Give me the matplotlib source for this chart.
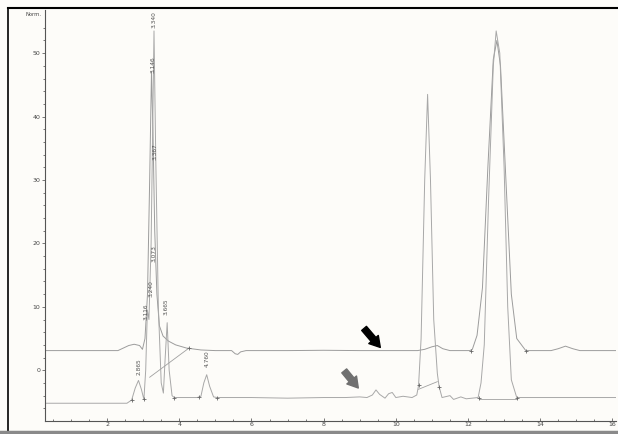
import matplotlib
matplotlib.use("Agg")
import matplotlib.pyplot as plt
from matplotlib.lines import Line2D

# upper trace (sample): (time min, signal)
upper_t = [0.28, 2.3, 2.45, 2.6, 2.75, 2.9, 2.98, 3.05, 3.12, 3.18, 3.23, 3.27, 3.32, 3.38,
           3.45, 3.55, 3.7, 3.9, 4.2, 4.6, 5.0, 5.45, 5.55, 5.62, 5.7, 5.85, 7.0, 8.0, 9.0,
           10.0, 10.6, 10.8, 11.0, 11.15, 11.3, 11.5, 12.05, 12.12, 12.25, 12.4, 12.55, 12.7,
           12.8, 12.9, 13.05, 13.2, 13.35, 13.6, 14.3, 14.5, 14.7, 14.9, 15.1, 16.1]
upper_y = [3.1, 3.1, 3.5, 3.9, 4.1, 3.9, 3.3, 5.0, 12.0, 30.0, 47.0, 38.0, 22.0, 12.0,
           7.0, 5.4, 4.6, 4.0, 3.5, 3.2, 3.1, 3.1, 2.6, 2.5, 2.9, 3.1, 3.1, 3.15, 3.1,
           3.1, 3.1, 3.3, 3.7, 3.9, 3.4, 3.1, 3.1, 3.3, 5.5, 13.0, 32.0, 49.0,
           52.0, 48.0, 30.0, 12.0, 5.0, 3.1, 3.1, 3.4, 3.8, 3.4, 3.1, 3.1]

# lower trace (standard)
lower_t = [0.28, 2.55, 2.68, 2.78, 2.87, 2.95, 3.02, 3.07, 3.116, 3.16, 3.22, 3.3, 3.35, 3.42,
           3.5, 3.56, 3.61, 3.665, 3.72, 3.8, 3.86, 4.5, 4.6, 4.68, 4.76, 4.84, 4.95, 5.05,
           6.0, 7.0, 8.0, 8.6, 9.0, 9.2, 9.35, 9.45, 9.55, 9.7, 9.8, 9.9, 10.0, 10.2, 10.45,
           10.58, 10.63, 10.7, 10.8, 10.88, 10.96, 11.05, 11.15, 11.2, 11.28, 11.5, 11.6,
           11.8, 11.95, 12.28, 12.36, 12.45, 12.57, 12.7, 12.78, 12.88, 13.0, 13.1, 13.2,
           13.35, 14.0, 15.0, 16.1]
lower_y = [-5.2, -5.2, -4.7, -2.8, -1.6, -3.0, -4.6, 0.0, 9.5, 8.0, 20.0, 53.5, 33.0, 10.0,
           -2.0, -3.6, 2.0, 7.5, 0.0, -4.0, -4.3, -4.3, -4.1, -2.0, -0.7, -2.5, -4.2, -4.3,
           -4.3, -4.4, -4.3, -4.3, -4.2, -4.3, -3.9, -3.1, -3.8, -4.4, -3.7, -3.5, -4.3, -4.1, -4.3,
           -3.9, -2.4, 5.0, 30.0, 43.5, 30.0, 8.0, -0.5, -2.6, -4.3, -4.0, -4.6,
           -4.2, -4.5, -4.3, -2.0, 4.0, 27.0, 48.0, 53.5, 50.0, 32.0, 10.0, -1.5,
           -4.3, -4.3, -4.3, -4.3]

# retention time labels (text, x, y of label foot)
rt_text = ["3.340", "3.146", "3.367", "3.073", "3.240", "3.116", "3.665", "2.865", "4.760"]
rt_x = [3.29, 3.26, 3.34, 3.29, 3.22, 3.08, 3.64, 2.9, 4.77]
rt_y = [53.9, 46.9, 33.1, 17.0, 11.5, 8.0, 8.7, -0.8, 0.5]

# integration markers
mark_t = [2.68, 3.02, 3.86, 4.55, 5.05, 10.63, 11.2, 12.3, 13.37, 4.27, 12.08, 13.6]
mark_y = [-4.7, -4.6, -4.3, -4.2, -4.3, -2.4, -2.6, -4.3, -4.3, 3.5, 3.1, 3.1]

# drawn baselines (x0, x1, y0, y1)
base_x0 = [12.3, 10.63, 3.18]
base_x1 = [13.37, 11.15, 4.27]
base_y0 = [-4.5, -3.0, -1.1]
base_y1 = [-4.5, -1.8, 3.5]

bg = "#fdfcf9"
fig = plt.figure(figsize=(6.18, 4.34), dpi=100, facecolor=bg)
ax = fig.add_axes([45 / 618, 13 / 434, 571 / 618, 411 / 434], facecolor=bg)

ax.plot(upper_t, upper_y, color="#9c9c9c", lw=0.7)
ax.plot(lower_t, lower_y, color="#a8a8a8", lw=0.7)
for a, b, c, d in zip(base_x0, base_x1, base_y0, base_y1):
    ax.plot([a, b], [c, d], color="#a0a0a0", lw=0.6)
ax.plot(mark_t, mark_y, linestyle="none", marker="+", ms=3, mew=0.6, color="#666666")

for s, x, y in zip(rt_text, rt_x, rt_y):
    ax.text(x, y, s, rotation=90, ha="center", va="bottom", fontsize=4.2, color="#555555")

# arrows pointing at the two baselines
ax.annotate("", xy=(9.57, 3.6), xytext=(9.12, 6.6),
            arrowprops=dict(arrowstyle="simple,head_width=0.9,head_length=0.75,tail_width=0.45",
                            color="black", mutation_scale=10, shrinkA=0, shrinkB=0))
ax.annotate("", xy=(8.96, -2.8), xytext=(8.57, -0.1),
            arrowprops=dict(arrowstyle="simple,head_width=0.9,head_length=0.75,tail_width=0.45",
                            color="#707070", mutation_scale=10, shrinkA=0, shrinkB=0))

ax.set_xlim(0.28, 16.1)
ax.set_ylim(-8.0, 56.8)
ax.set_xticks(range(2, 17, 2))
ax.set_xticks([v / 2 for v in range(1, 33)], minor=True)
ax.set_yticks(range(0, 51, 10))
ax.set_yticks(range(-6, 56, 2), minor=True)
ax.tick_params(axis="x", which="both", direction="in", labelsize=4.5, colors="#444444",
               pad=1, length=2.5, width=0.5)
ax.tick_params(axis="x", which="minor", length=1.5)
ax.tick_params(axis="y", which="both", direction="out", labelsize=4.5, colors="#444444",
               pad=1, length=2.5, width=0.5)
ax.tick_params(axis="y", which="minor", length=1.5)
for side in ["top", "right"]:
    ax.spines[side].set_visible(False)
for side in ["left", "bottom"]:
    ax.spines[side].set_color("#555555")
    ax.spines[side].set_linewidth(0.8)

fig.text(33 / 618, 1 - 14 / 434, "Norm.", fontsize=3.8, color="#444444", ha="center", va="center")

# outer frame of the screenshot
fig.add_artist(Line2D([8 / 618, 1], [1 - 8 / 434, 1 - 8 / 434], transform=fig.transFigure,
                      color="black", lw=1.5))
fig.add_artist(Line2D([8 / 618, 8 / 618], [0, 1 - 8 / 434], transform=fig.transFigure,
                      color="black", lw=1.2))
fig.add_artist(Line2D([0, 1], [2 / 434, 2 / 434], transform=fig.transFigure,
                      color="#8a8a8a", lw=2.5))

fig.savefig("out.png", dpi=100, facecolor=bg)
